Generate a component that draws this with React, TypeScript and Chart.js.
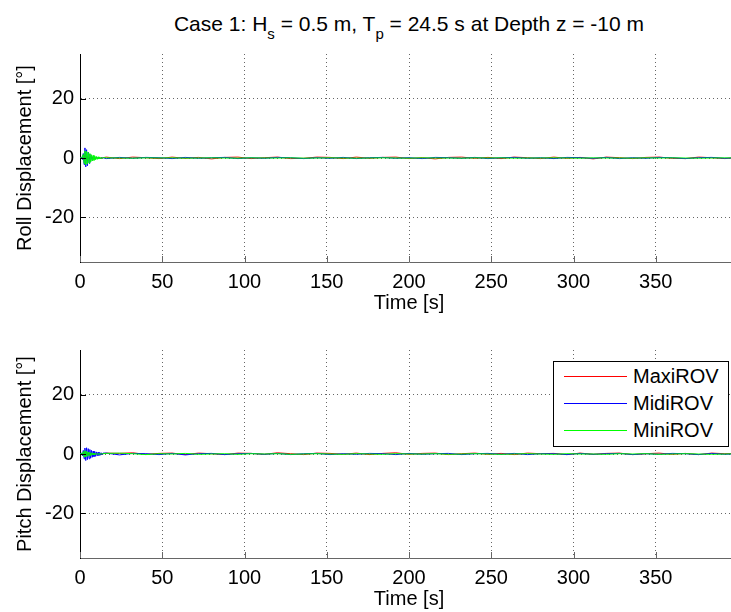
import React, { useEffect, useRef } from 'react';
import { Chart, registerables } from 'chart.js';

Chart.register(...registerables);

const FONT = "'Liberation Sans', Arial, Helvetica, sans-serif";

// Time samples [s]
const timeS = [
  0, 0.5, 1, 1.5, 2, 2.5, 3, 3.5, 4, 4.5, 5, 5.5, 6, 6.5, 7, 7.5, 8, 8.5, 9, 9.5,
  10, 10.5, 11, 11.5, 12, 12.5, 13, 13.5, 14,
  16, 24, 32, 40, 48, 56, 64,
  72, 80, 88, 96, 104, 112, 120,
  128, 136, 144, 152, 160, 168, 176,
  184, 192, 200, 208, 216, 224, 232,
  240, 248, 256, 264, 272, 280, 288,
  296, 304, 312, 320, 328, 336, 344,
  352, 360, 368, 376, 384, 392, 400,
];

// Roll displacement [deg]
const rollMaxi = [
  0, 0, 0.1, -0.2, 0.4, -0.6, 0.8, -0.7, 0.6, -0.5, 0.5, -0.4, 0.3, -0.3, 0.3, -0.2, 0.2, -0.2, 0.2, -0.1,
  0.1, -0.1, 0.1, -0.1, 0.1, 0, 0.1, 0, 0.1,
  0.3, -0.2, 0.3, 0.1, -0.2, 0.3, -0.1,
  0.2, -0.3, 0.2, 0.3, -0.2, 0.1, 0.3,
  -0.2, -0.1, 0.3, 0.2, -0.2, 0.3, -0.1,
  0.2, 0.3, -0.2, 0.1, -0.3, 0.2, 0.3,
  -0.1, 0.2, -0.2, 0.3, 0.1, -0.2, 0.3,
  -0.1, 0.2, -0.3, 0.3, 0.1, -0.2, 0.2,
  0.3, -0.1, -0.2, 0.3, 0.1, -0.2, 0.2,
];
const rollMidi = [
  0, 0, 0.2, -0.5, 1.5, -2.2, 3.4, -3.0, 2.8, -2.6, 2.0, -1.8, 1.3, -1.1, 0.8, -0.7, 0.5, -0.4, 0.3, -0.3,
  0.2, -0.2, 0.2, -0.1, 0.1, -0.1, 0.1, 0, 0.1,
  -0.2, 0.2, -0.1, 0.2, 0.1, -0.2, 0.2,
  -0.1, 0.1, 0.2, -0.2, 0.1, -0.1, 0.2,
  0.1, -0.2, 0.1, -0.1, 0.2, -0.2, 0.1,
  0.2, -0.1, 0.1, -0.2, 0.2, 0.1, -0.1,
  0.2, -0.2, 0.1, 0.2, -0.1, 0.1, -0.2,
  0.2, 0.1, -0.1, 0.2, -0.2, 0.1, -0.1,
  0.2, 0.1, -0.2, 0.1, 0.2, -0.1, 0.1,
];
const rollMini = [
  0, 0.1, -0.3, 0.8, 1.2, -1.8, 2.4, -2.3, 2.2, -2.0, 1.9, -1.7, 1.5, -1.3, 1.1, -1.0, 0.9, -0.8, 0.7, -0.6,
  0.5, -0.45, 0.4, -0.35, 0.3, -0.25, 0.2, -0.2, 0.15,
  0.05, 0, -0.05, 0.05, 0, 0.05, -0.05,
  0, 0.05, 0, -0.05, 0.05, 0, 0,
  0.05, -0.05, 0, 0.05, 0, -0.05, 0,
  0.05, 0, -0.05, 0.05, 0, 0, -0.05,
  0.05, 0, 0.05, -0.05, 0, 0, 0.05,
  0, -0.05, 0.05, 0, 0, -0.05, 0.05,
  0, 0.05, 0, -0.05, 0, 0.05, 0,
];

// Pitch displacement [deg]
const pitchMaxi = [
  0, 0, 0.1, -0.2, 0.3, -0.4, 0.5, -0.4, 0.4, -0.3, 0.3, -0.3, 0.2, -0.2, 0.2, -0.1, 0.1, -0.1, 0.1, -0.1,
  0.1, 0, 0.1, 0, 0.1, 0, 0.1, 0, 0.1,
  0.3, 0.2, 0.4, -0.1, 0.2, 0.3, -0.2,
  0.3, 0.1, -0.2, 0.3, 0.2, -0.1, 0.4,
  0.1, -0.2, 0.3, 0.2, -0.1, 0.3, -0.2,
  0.2, 0.4, -0.1, 0.2, 0.3, -0.2, 0.1,
  0.3, -0.1, 0.2, -0.2, 0.3, 0.1, 0.2,
  -0.2, 0.3, -0.1, 0.2, 0.3, -0.2, 0.1,
  0.3, -0.1, 0.2, -0.2, 0.3, 0.1, 0.2,
];
const pitchMidi = [
  0, 0, 0.3, -0.6, 1.2, -1.6, 2.0, -2.2, 2.1, -1.9, 1.8, -1.6, 1.5, -1.4, 1.2, -1.1, 1.0, -0.9, 0.8, -0.8,
  0.7, -0.6, 0.6, -0.5, 0.5, -0.4, 0.4, -0.3, 0.3,
  0.3, -0.3, 0.2, 0.1, -0.2, 0.2, -0.3,
  0.1, 0.2, -0.2, 0.1, 0.2, -0.1, 0.2,
  -0.2, 0.1, 0.2, -0.2, 0.1, -0.1, 0.2,
  0.1, -0.2, 0.2, -0.1, 0.1, 0.2, -0.2,
  0.1, 0.2, -0.1, 0.2, -0.2, 0.1, 0.1,
  -0.2, 0.2, -0.1, 0.1, 0.2, -0.2, 0.1,
  -0.1, 0.2, 0.1, -0.2, 0.2, -0.1, 0.1,
];
const pitchMini = [
  0, 0, 0.2, -0.4, 0.8, -1.0, 1.1, -1.0, 0.9, -0.8, 0.7, -0.6, 0.5, -0.5, 0.4, -0.3, 0.3, -0.3, 0.2, -0.2,
  0.2, -0.1, 0.1, -0.1, 0.1, 0, 0.1, 0, 0.1,
  0.2, 0.3, 0.1, -0.2, 0.1, 0, 0.2,
  -0.1, 0, 0.1, -0.1, 0.1, 0, 0.1,
  -0.1, 0, 0.1, 0, -0.1, 0.1, 0,
  -0.1, 0.1, 0, 0, 0.1, -0.1, 0,
  0.1, 0, -0.1, 0, 0.1, 0, -0.1,
  0.1, 0, 0, -0.1, 0.1, 0, 0.1,
  -0.1, 0, 0.1, 0, -0.1, 0, 0.1,
];

const xTickValues = [0, 50, 100, 150, 200, 250, 300, 350];
const yTickValues = [-20, 0, 20];
const seriesNames = ['MaxiROV', 'MidiROV', 'MiniROV'];
const seriesColors = ['#ff0000', '#0000ff', '#00ff00'];

const inwardTicks = {
  id: 'inwardTicks',
  afterDatasetsDraw(chart: any) {
    const { ctx, chartArea, scales } = chart;
    ctx.save();
    ctx.lineWidth = 1;
    ctx.strokeStyle = '#000';
    scales.y.ticks.forEach((t: any) => {
      const y = Math.round(scales.y.getPixelForValue(t.value)) + 0.5;
      ctx.beginPath();
      ctx.moveTo(chartArea.left, y);
      ctx.lineTo(chartArea.left + 6, y);
      ctx.stroke();
    });
    ctx.strokeStyle = '#666';
    scales.x.ticks.forEach((t: any) => {
      const x = Math.round(scales.x.getPixelForValue(t.value)) + 0.5;
      ctx.beginPath();
      ctx.moveTo(x, chartArea.bottom);
      ctx.lineTo(x, chartArea.bottom - 6);
      ctx.stroke();
    });
    ctx.restore();
  },
};

function Panel(props: { top: number; yLabel: string; series: number[][] }) {
  const ref = useRef<HTMLCanvasElement | null>(null);
  useEffect(() => {
    const datasets = props.series.map((vals, i) => ({
      label: seriesNames[i],
      data: timeS.map((t, k) => ({ x: t, y: vals[k] })),
      borderColor: seriesColors[i],
      backgroundColor: seriesColors[i],
      borderWidth: 1,
      pointRadius: 0,
      tension: 0,
      fill: false,
      order: 2 - i,
    }));
    const tickFont = { family: FONT, size: 20 };
    const chart = new Chart(ref.current as HTMLCanvasElement, {
      type: 'line',
      data: { datasets },
      options: {
        responsive: false,
        animation: false,
        layout: { padding: { top: 54, left: 0, right: 0, bottom: 0 } },
        plugins: { legend: { display: false }, tooltip: { enabled: false }, title: { display: false } },
        scales: {
          x: {
            type: 'linear',
            min: 0,
            max: 400,
            afterBuildTicks: (s: any) => {
              s.ticks = xTickValues.map((v) => ({ value: v }));
            },
            afterFit: (s: any) => {
              s.height = 54;
            },
            grid: { color: 'rgba(0,0,0,0.6)', lineWidth: 1, drawTicks: false },
            border: { display: true, color: '#666', width: 1, dash: [1, 3] },
            ticks: { color: '#000', font: tickFont, padding: 8, maxRotation: 0, autoSkip: false },
            title: {
              display: true,
              text: 'Time [s]',
              color: '#000',
              font: tickFont,
              padding: { top: 0, bottom: 1 },
            },
          },
          y: {
            type: 'linear',
            min: -35,
            max: 35,
            afterBuildTicks: (s: any) => {
              s.ticks = yTickValues.map((v) => ({ value: v }));
            },
            afterFit: (s: any) => {
              s.width = 80;
            },
            grid: { color: 'rgba(0,0,0,0.6)', lineWidth: 1, drawTicks: false },
            border: { display: true, color: '#000', width: 1, dash: [1, 3] },
            ticks: { color: '#000', font: tickFont, padding: 6 },
            title: {
              display: true,
              text: props.yLabel,
              color: '#000',
              font: tickFont,
              padding: { top: 13, bottom: 0 },
            },
          },
        },
      } as any,
      plugins: [inwardTicks],
    });
    return () => chart.destroy();
  }, []);
  return (
    <canvas
      ref={ref}
      width={738}
      height={316}
      style={{ position: 'absolute', left: 0, top: props.top, width: 738, height: 316 }}
    />
  );
}

export default function App() {
  const legendRows = [14, 41, 68];
  return (
    <div
      style={{
        position: 'absolute',
        left: 0,
        top: 0,
        width: 731,
        height: 612,
        overflow: 'hidden',
        background: '#fff',
        fontFamily: FONT,
      }}
    >
      <div
        style={{
          position: 'absolute',
          left: 80,
          width: 658,
          top: 12,
          fontSize: 21,
          lineHeight: '24px',
          textAlign: 'center',
          whiteSpace: 'nowrap',
          color: '#000',
        }}
      >
        Case 1: H<span style={{ fontSize: 15, position: 'relative', top: 8 }}>s</span> = 0.5 m, T
        <span style={{ fontSize: 15, position: 'relative', top: 8 }}>p</span> = 24.5 s at Depth z = -10 m
      </div>
      <Panel top={0} yLabel="Roll Displacement [°]" series={[rollMaxi, rollMidi, rollMini]} />
      <Panel top={296} yLabel="Pitch Displacement [°]" series={[pitchMaxi, pitchMidi, pitchMini]} />
      <div
        style={{
          position: 'absolute',
          left: 553,
          top: 361,
          width: 176,
          height: 86,
          boxSizing: 'border-box',
          border: '1px solid #000',
          background: '#fff',
        }}
      >
        {seriesNames.map((name, i) => (
          <React.Fragment key={name}>
            <div
              style={{
                position: 'absolute',
                left: 10,
                top: legendRows[i],
                width: 63,
                height: 1,
                background: seriesColors[i],
              }}
            />
            <div
              style={{
                position: 'absolute',
                left: 79,
                top: legendRows[i] - 12,
                fontSize: 20,
                lineHeight: '24px',
                whiteSpace: 'nowrap',
                color: '#000',
              }}
            >
              {name}
            </div>
          </React.Fragment>
        ))}
      </div>
    </div>
  );
}
